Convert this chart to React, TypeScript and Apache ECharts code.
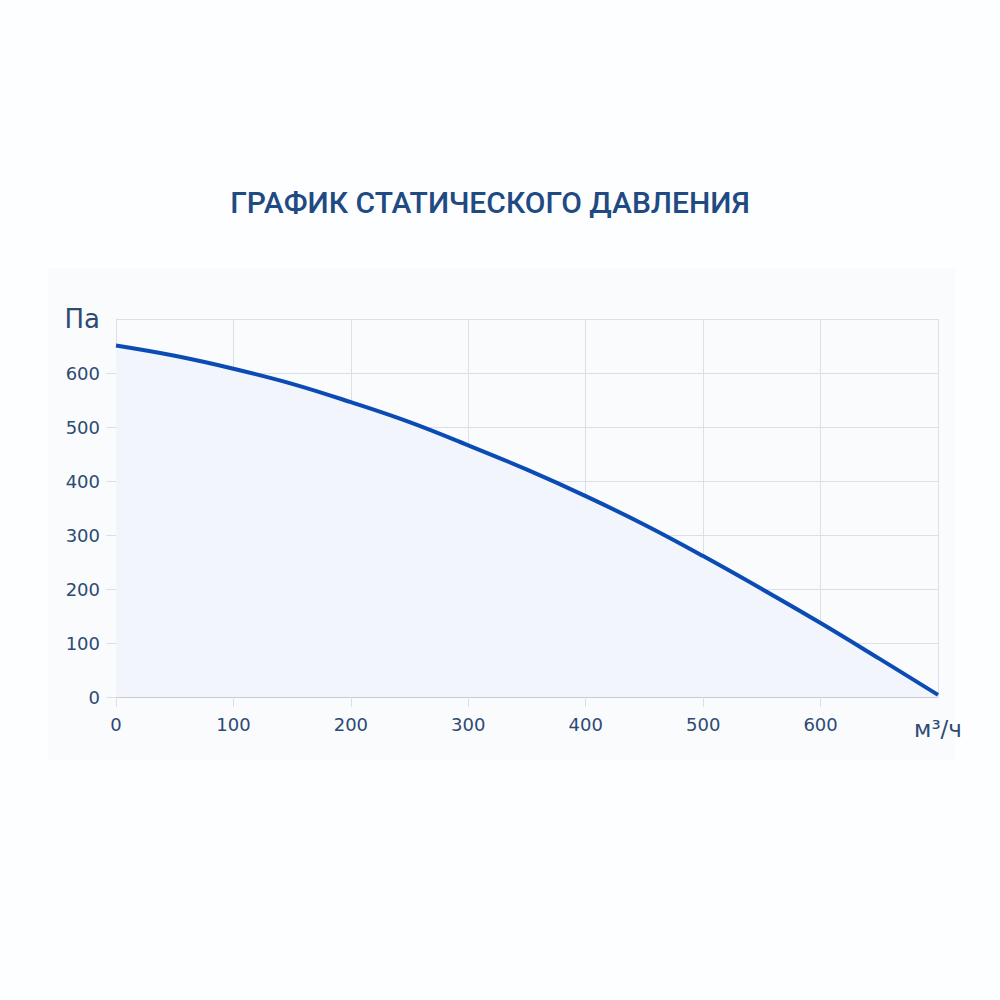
import React, { useEffect, useRef } from "react";
import * as echarts from "echarts";

const titleText = "ГРАФИК СТАТИЧЕСКОГО ДАВЛЕНИЯ";
const yName = "Па";
const xName = "м³/ч";
const flow = [0, 50, 100, 150, 200, 250, 300, 350, 400, 450, 500, 550, 600, 650, 700];
const pressure = [651, 632, 608, 580, 546, 509, 466, 421, 372, 319, 261, 200, 137, 71, 4];

export default function App() {
  const ref = useRef<HTMLDivElement>(null);
  useEffect(() => {
    const chart = echarts.init(ref.current!, null, { renderer: "svg" });
    const labelColor = "#2d4a72";
    const gridColor = "#dcdfe7";
    const font = "DejaVu Sans";
    chart.setOption({
      animation: false,
      backgroundColor: "#fdfeff",
      title: {
        text: titleText,
        left: 485,
        textAlign: "center",
        top: 182,
        textStyle: {
          fontFamily: "Roboto",
          fontWeight: 500,
          fontSize: 30,
          color: "#1f4a82",
        },
      },
      graphic: [
        {
          type: "rect",
          z: -10,
          silent: true,
          shape: { x: 48, y: 268, width: 907, height: 492 },
          style: { fill: "#f9fbfd" },
        },
      ],
      grid: { left: 116, right: 62, top: 319, bottom: 303 },
      xAxis: {
        type: "value",
        min: 0,
        max: 700,
        interval: 100,
        name: xName,
        nameLocation: "end",
        nameGap: 0,
        nameTextStyle: {
          fontFamily: font,
          fontSize: 23,
          color: labelColor,
          align: "center",
          verticalAlign: "top",
          padding: [20, 0, 0, 0],
        },
        axisLine: { show: true, lineStyle: { color: "#c8ccd6", width: 1 } },
        axisTick: { show: true, length: 10, lineStyle: { color: gridColor } },
        splitLine: { show: true, lineStyle: { color: gridColor, width: 1 } },
        axisLabel: {
          fontFamily: font,
          fontSize: 18,
          color: labelColor,
          margin: 18,
          showMaxLabel: false,
        },
      },
      yAxis: {
        type: "value",
        min: 0,
        max: 700,
        interval: 100,
        name: yName,
        nameLocation: "end",
        nameGap: 0,
        nameTextStyle: {
          fontFamily: font,
          fontSize: 26,
          color: labelColor,
          align: "right",
          verticalAlign: "middle",
          padding: [0, 16, 0, 0],
        },
        axisLine: { show: true, lineStyle: { color: gridColor, width: 1 } },
        axisTick: { show: true, length: 10, lineStyle: { color: gridColor } },
        splitLine: { show: true, lineStyle: { color: gridColor, width: 1 } },
        axisLabel: {
          fontFamily: font,
          fontSize: 18,
          color: labelColor,
          margin: 16,
          showMaxLabel: false,
        },
      },
      series: [
        {
          type: "line",
          data: flow.map((x, i) => [x, pressure[i]]),
          smooth: 0.4,
          showSymbol: false,
          lineStyle: { color: "#0a4bb4", width: 4 },
          areaStyle: { color: "#f2f5fb", opacity: 1 },
        },
      ],
    });
    return () => chart.dispose();
  }, []);
  return (
    <div
      ref={ref}
      style={{ position: "absolute", left: 0, top: 0, width: 1000, height: 1000 }}
    />
  );
}
